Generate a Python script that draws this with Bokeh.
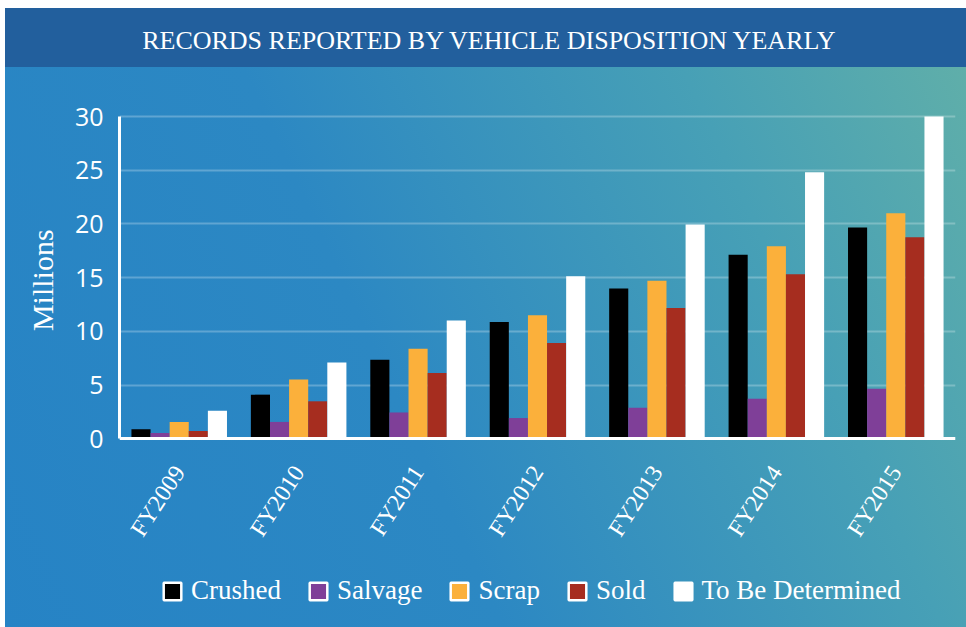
import math
from bokeh.plotting import figure
from bokeh.models import (FactorRange, Range1d, FixedTicker, Legend, LegendItem,
                          Label, InlineStyleSheet, ColumnDataSource)
from bokeh.transform import dodge
from bokeh.embed import file_html
from bokeh.resources import INLINE

# ---- data (millions of records) ----
years = ["FY2009", "FY2010", "FY2011", "FY2012", "FY2013", "FY2014", "FY2015"]
series_names = ["Crushed", "Salvage", "Scrap", "Sold", "To Be Determined"]
crushed = [0.88, 4.11, 7.36, 10.87, 13.98, 17.14, 19.66]
salvage = [0.53, 1.57, 2.45, 1.93, 2.89, 3.73, 4.66]
scrap = [1.57, 5.53, 8.39, 11.49, 14.72, 17.92, 20.99]
sold = [0.72, 3.49, 6.12, 8.91, 12.17, 15.31, 18.76]
tbd = [2.60, 7.10, 11.02, 15.12, 19.94, 24.81, 30.00]
y_ticks = [0, 5, 10, 15, 20, 25, 30]
title_text = "RECORDS REPORTED BY VEHICLE DISPOSITION YEARLY"
y_label = "Millions"

colors = ["#000000", "#7f3f98", "#fbb03b", "#a62d1f", "#ffffff"]
fields = ["crushed", "salvage", "scrap", "sold", "tbd"]

source = ColumnDataSource(data=dict(years=years, crushed=crushed, salvage=salvage,
                                    scrap=scrap, sold=sold, tbd=tbd))

# layout: canvas 966x627, value axis 0..30 spans pixel rows 438.3 .. 116
W, H = 966, 627
y_top_px, y_zero_px = 116.0, 438.3
ppu = (y_zero_px - y_top_px) / 30.0
y_end = 30 + y_top_px / ppu
y_start = -(H - y_zero_px) / ppu

p = figure(x_range=FactorRange(factors=years), y_range=Range1d(y_start, y_end),
           width=W, height=H, output_backend="svg", toolbar_location=None,
           title_location=None,
           min_border_left=119, min_border_right=11, min_border_top=0,
           min_border_bottom=0)

p.background_fill_color = None
p.border_fill_color = None
p.outline_line_color = None
p.stylesheets = [InlineStyleSheet(css="""
:host {
  background:
    linear-gradient(#ffffff, #ffffff) top left / 100% 8px no-repeat,
    linear-gradient(#ffffff, #ffffff) top left / 5px 100% no-repeat,
    linear-gradient(#225f9d, #225f9d) left 0 top 8px / 100% 59px no-repeat,
    linear-gradient(65deg, #2683c5 0%, #2c88c3 40%, #47a0b6 75%, #62b0a8 100%);
}
""")]

bar_w = 0.16
for k, (f, c) in enumerate(zip(fields, colors)):
    p.vbar(x=dodge("years", (k - 2) * bar_w, range=p.x_range), top=f, width=bar_w,
           source=source, fill_color=c, line_color=None)

# legend proxies (no drawable value, only used for the legend swatches)
items = []
for name, c in zip(series_names, colors):
    r = p.vbar(x=[years[0]], top=[float("nan")], width=bar_w, fill_color=c,
               line_color="white", line_width=2.5)
    items.append(LegendItem(label=name, renderers=[r]))

legend = Legend(items=items, orientation="horizontal", location=(42, 21),
                border_line_color=None, background_fill_alpha=0, padding=0, margin=0,
                spacing=26, label_standoff=8, glyph_width=22, glyph_height=22,
                label_text_font="Liberation Serif", label_text_font_size="27px",
                label_text_color="white")
p.add_layout(legend)

# title (inside the frame, screen units from frame bottom-left)
p.add_layout(Label(x=370.5, y=H - 40, x_units="screen", y_units="screen",
                   text=title_text, text_align="center", text_baseline="alphabetic",
                   text_font="Liberation Serif", text_font_size="26px",
                   text_color="white"))

# axes
p.xgrid.grid_line_color = None
p.ygrid.grid_line_color = "white"
p.ygrid.grid_line_alpha = 0.25
p.ygrid.grid_line_width = 2

xa = p.xaxis[0]
xa.fixed_location = 0
xa.axis_line_color = "white"
xa.axis_line_width = 3
xa.major_tick_line_color = None
xa.minor_tick_line_color = None
xa.major_label_orientation = math.radians(57)
xa.major_label_text_font = "Liberation Serif"
xa.major_label_text_font_size = "24px"
xa.major_label_text_color = "white"
xa.major_label_standoff = 23

ya = p.yaxis[0]
ya.ticker = FixedTicker(ticks=y_ticks)
ya.bounds = (0, 30)
ya.axis_line_color = "white"
ya.axis_line_width = 3
ya.major_tick_line_color = None
ya.minor_tick_line_color = None
ya.major_label_text_font = "Open Sans"
ya.major_label_text_font_size = "25px"
ya.major_label_text_color = "white"
ya.major_label_standoff = 10
# leading no-break spaces shift the label up so that it is centred on the 0..30 span
ya.axis_label = "\u00a0" * 9 + y_label
ya.axis_label_text_font = "Liberation Serif"
ya.axis_label_text_font_size = "30px"
ya.axis_label_text_font_style = "normal"
ya.axis_label_text_color = "white"
ya.axis_label_standoff = 13

open("out.html", "w").write(file_html(p, INLINE))
